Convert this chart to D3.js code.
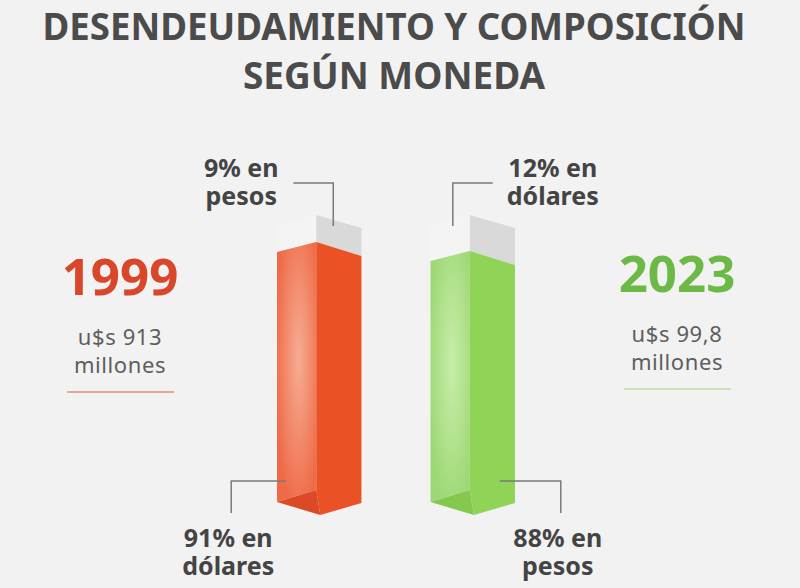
<!DOCTYPE html>
<html>
<head>
<meta charset="utf-8">
<script src="https://cdn.jsdelivr.net/npm/d3@7/dist/d3.min.js"></script>
<style>
	html, body { margin: 0; background: #f2f2f2; }
	svg { display: block; font-family: "Noto Sans", sans-serif; }
</style>
</head>
<body>
<svg id="chart" width="800" height="588"></svg>
<script>
// datos
var years = ["1999", "2023"];
var montos = ["u$s 913", "u$s 99,8"];
var parteColor = [91, 88];              // parte pintada, abajo
var monedaColor = ["dólares", "pesos"];
var parteGris = [9, 12];                // parte gris, arriba
var monedaGris = ["pesos", "dólares"];

var paleta = [
	{frente: "#ea5226", luz: "#f6ad94", borde: "#ef6b48", base: "#db4925", texto: "#d9462a", linea: "#e6a793"},
	{frente: "#8fd357", luz: "#c8eda9", borde: "#9ed876", base: "#84c84e", texto: "#6cba45", linea: "#c9e3b6"}
];

var svg = d3.select("#chart");
svg.append("rect").attr("width", 800).attr("height", 588).attr("fill", "#f2f2f2");

// titulo
svg.append("text")
	.text("DESENDEUDAMIENTO Y COMPOSICIÓN")
	.attr("x", 394).attr("y", 40)
	.attr("text-anchor", "middle")
	.attr("font-size", 37).attr("font-weight", "bold")
	.attr("textLength", 703).attr("lengthAdjust", "spacingAndGlyphs")
	.attr("fill", "#4b4b4b");
svg.append("text")
	.text("SEGÚN MONEDA")
	.attr("x", 394).attr("y", 89)
	.attr("text-anchor", "middle")
	.attr("font-size", 37).attr("font-weight", "bold")
	.attr("textLength", 302).attr("lengthAdjust", "spacingAndGlyphs")
	.attr("fill", "#4b4b4b");

var x = d3.scaleBand().domain(years).range([277, 515]).paddingInner(0.45);
var y = d3.scaleLinear().domain([0, 100]).range([515, 215]);

var defs = svg.append("defs");
years.forEach(function(d, i)
{
	var g = defs.append("radialGradient")
		.attr("id", "luz" + i)
		.attr("cx", 0.55).attr("cy", 0.45).attr("r", 0.6);
	g.append("stop").attr("offset", "0%").attr("stop-color", paleta[i].luz);
	g.append("stop").attr("offset", "100%").attr("stop-color", paleta[i].borde);
});

var line = d3.line();

function geo(i)
{
	var L = x(years[i]), w = x.bandwidth();
	return {L: L, M: L + w * 0.465, R: L + w};
}

var bars = svg.selectAll("g.barra").data(years).enter().append("g").classed("barra", 1);

bars.each(function(d, i)
{
	var g = d3.select(this), p = geo(i), c = paleta[i];
	var vTop = parteColor[i] + parteGris[i];
	var yc = y(parteColor[i]), yt = y(vTop), y0 = y(0);

	// parte gris
	g.append("path")
		.attr("d", line([[p.L, yt + 10], [p.M, yt], [p.M, yc], [p.L, yc + 10]]) + "Z")
		.attr("fill", "#f4f4f4");
	g.append("path")
		.attr("d", line([[p.M, yt], [p.R, yt + 13], [p.R, yc + 14], [p.M, yc]]) + "Z")
		.attr("fill", "#d9d9d9");

	// parte de color
	g.append("path")
		.attr("d", line([[p.L, yc + 10], [p.M, yc], [p.M, y0 - 25], [p.L, y0 - 13]]) + "Z")
		.attr("fill", "url(#luz" + i + ")");
	g.append("path")
		.attr("d", line([[p.M, yc], [p.R, yc + 14], [p.R, y0 - 12], [p.M + 4, y0], [p.M, y0 - 25]]) + "Z")
		.attr("fill", c.frente);
	g.append("path")
		.attr("d", line([[p.L, y0 - 13], [p.M, y0 - 25], [p.M + 4, y0]]) + "Z")
		.attr("fill", c.base);
});

// etiquetas con lineas guia
function label(g, cx, by, lines)
{
	g.append("text")
		.attr("text-anchor", "middle")
		.attr("font-size", 25).attr("font-weight", "bold")
		.attr("fill", "#444")
		.selectAll("tspan").data(lines).enter().append("tspan")
		.attr("x", cx)
		.attr("y", function(d, k) { return by + k * 28; })
		.text(function(d) { return d; });
}

var guia = svg.append("g")
	.attr("fill", "none").attr("stroke", "#7a7a7a").attr("stroke-width", 1.5);

years.forEach(function(d, i)
{
	var p = geo(i), side = i === 0 ? -1 : 1;
	var cx = (p.L + p.R) / 2;

	// arriba: parte gris
	var tx = cx + (side < 0 ? -78 : 80);
	label(svg, tx, 177, [parteGris[i] + "% en", monedaGris[i]]);
	guia.append("path").attr("d", line([[p.M + 23 * side, 183], [p.M - 17 * side, 183], [p.M - 17 * side, y(100) + 11]]));

	// abajo: parte de color
	var bx = cx + (side < 0 ? -91 : 85);
	label(svg, bx, 547, [parteColor[i] + "% en", monedaColor[i]]);
	guia.append("path").attr("d", line([[p.M + 30 * side, y(0) - 34], [bx + 3, y(0) - 34], [bx + 3, 513]]));
});

// año y monto a los costados
var infoX = [120, 677], infoY = [295, 292];
years.forEach(function(d, i)
{
	var g = svg.append("g").attr("transform", "translate(" + infoX[i] + "," + infoY[i] + ")");
	g.append("text").text(d)
		.attr("text-anchor", "middle")
		.attr("font-size", 51).attr("font-weight", "bold")
		.attr("fill", paleta[i].texto);
	g.append("text")
		.attr("text-anchor", "middle")
		.attr("font-size", 22).attr("letter-spacing", 0.6)
		.attr("fill", "#5e5e5e")
		.selectAll("tspan").data([montos[i], "millones"]).enter().append("tspan")
		.attr("x", 0)
		.attr("y", function(t, k) { return 50 + k * 28; })
		.text(function(t) { return t; });
	g.append("line")
		.attr("x1", -53).attr("x2", 54)
		.attr("y1", 97).attr("y2", 97)
		.attr("stroke", paleta[i].linea).attr("stroke-width", 2);
});
</script>
</body>
</html>
